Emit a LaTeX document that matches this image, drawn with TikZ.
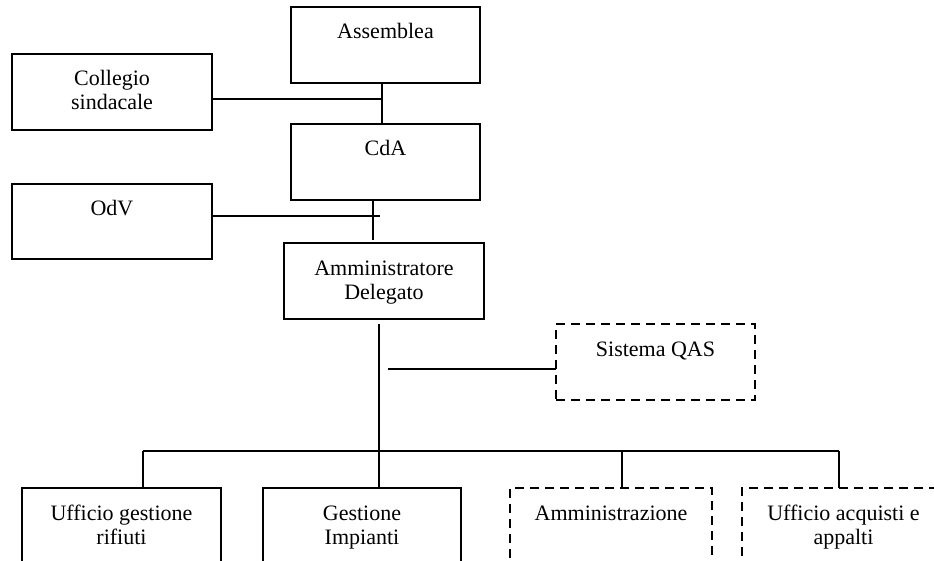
\documentclass[tikz,border=0pt]{standalone}
\usepackage{fontspec}
\setmainfont{Liberation Serif}
\begin{document}
\begin{tikzpicture}[x=1pt,y=-1pt,
  box/.style={draw,line width=1.8pt,rectangle,inner sep=0pt,outer sep=0pt},
  dbox/.style={box,dash pattern=on 9pt off 6pt},
  lbl/.style={anchor=base,align=center,inner sep=0pt,font=\fontsize{22}{24}\selectfont},
  conn/.style={line width=1.8pt}]
\useasboundingbox (0,0) rectangle (934,561);
\clip (0,0) rectangle (934,561);
% boxes
\node[box,minimum width=189pt,minimum height=76pt] (ass) at (385.5,45) {};
\node[box,minimum width=200pt,minimum height=76pt] (col) at (112,92) {};
\node[box,minimum width=189pt,minimum height=76pt] (cda) at (385.5,162) {};
\node[box,minimum width=200pt,minimum height=75pt] (odv) at (112,221.5) {};
\node[box,minimum width=200pt,minimum height=76pt] (ad) at (384,281) {};
\node[dbox,minimum width=199pt,minimum height=76pt] (qas) at (655.5,362) {};
\node[box,minimum width=199pt,minimum height=90pt] (ugr) at (121.5,533) {};
\node[box,minimum width=198pt,minimum height=90pt] (gi) at (362,533) {};
\node[dbox,minimum width=202pt,minimum height=90pt] (amm) at (611,533) {};
\node[dbox,minimum width=203pt,minimum height=90pt] (uaa) at (843.5,533) {};
% labels (base = baseline of the last line)
\node[lbl] (assT) at ([yshift=-32pt]ass.north) {Assemblea};
\node[lbl] (colT) at ([yshift=-56pt]col.north) {Collegio\\sindacale};
\node[lbl] (cdaT) at ([yshift=-32pt]cda.north) {CdA};
\node[lbl] (odvT) at ([yshift=-32pt]odv.north) {OdV};
\node[lbl] (adT) at ([yshift=-56pt]ad.north) {Amministratore\\Delegato};
\node[lbl] (qasT) at ([yshift=-32pt]qas.north) {Sistema QAS};
\node[lbl] (ugrT) at ([yshift=-56pt]ugr.north) {Ufficio gestione\\rifiuti};
\node[lbl] (giT) at ([yshift=-56pt]gi.north) {Gestione\\Impianti};
\node[lbl] (ammT) at ([yshift=-32pt]amm.north) {Amministrazione};
\node[lbl] (uaaT) at ([yshift=-56pt]uaa.north) {Ufficio acquisti e\\appalti};
% connectors
\draw[conn] ([xshift=-3.5pt]ass.south) coordinate (a1) -- (a1 |- cda.north);
\coordinate (colend) at (383,99);
\draw[conn] (col.east |- colend) -- (colend);
\draw[conn] ([xshift=-12.5pt]cda.south) coordinate (c1) -- ([yshift=3pt]c1 |- ad.north);
\coordinate (odvend) at (380,216);
\draw[conn] (odv.east |- odvend) -- (odvend);
\coordinate (adv) at (379,324);
\draw[conn] (adv) -- (adv |- gi.north);
\coordinate (qs) at (388,369);
\draw[conn] (qs) -- (qs -| qas.west);
\coordinate (bl) at (143,451);
\coordinate (bm) at (622,451);
\coordinate (br) at (839,451);
\draw[conn] (bl) -- (br);
\draw[conn] (bl) -- (bl |- ugr.north);
\draw[conn] (bm) -- (bm |- amm.north);
\draw[conn] (br) -- (br |- uaa.north);
\end{tikzpicture}
\end{document}
